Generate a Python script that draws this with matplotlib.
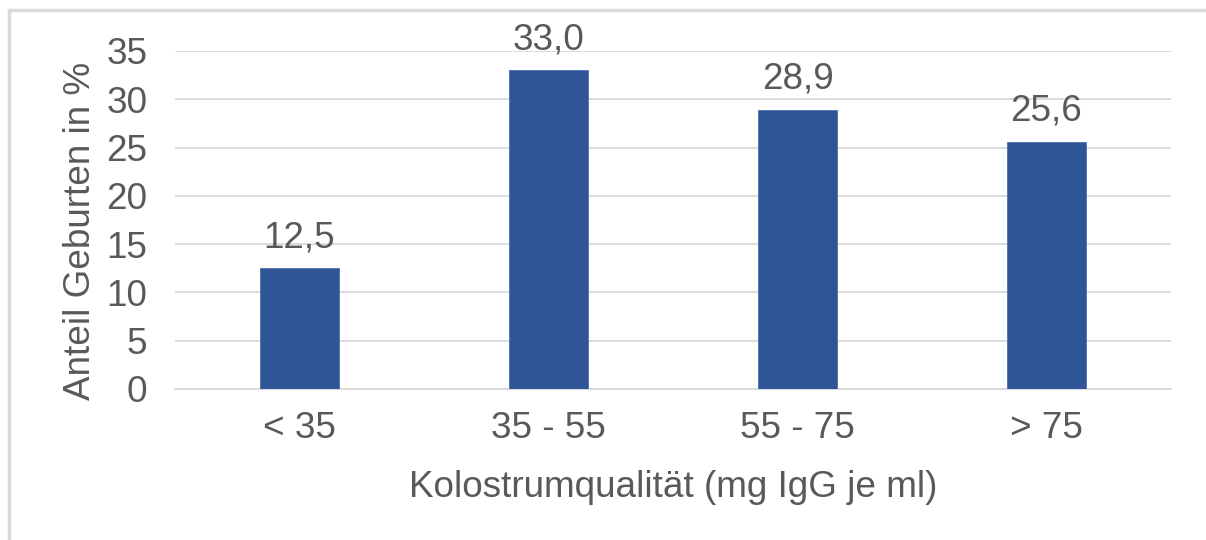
import matplotlib.pyplot as plt
from matplotlib.patches import Rectangle

categories = ["< 35", "35 - 55", "55 - 75", "> 75"]
shares = [12.5, 33.0, 28.9, 25.6]
value_labels = ["12,5", "33,0", "28,9", "25,6"]
y_ticks = [0, 5, 10, 15, 20, 25, 30, 35]

plt.rcParams['font.family'] = ['Liberation Sans', 'DejaVu Sans']
text_color = '#595959'
grid_color = '#D9D9D9'
bar_color = '#2F5597'
fs = 26.6

fig = plt.figure(figsize=(12.06, 5.4), dpi=100)
ax = fig.add_axes([175 / 1206, 1 - 389 / 540, 996 / 1206, 338 / 540])

x = range(len(categories))
bars = ax.bar(x, shares, width=0.315, color=bar_color, edgecolor='#4A6FB0', linewidth=0.6, zorder=3)

for rect, lab in zip(bars, value_labels):
    ax.annotate(lab, (rect.get_x() + rect.get_width() / 2, rect.get_height()),
                xytext=(0, 13), textcoords='offset pixels', ha='center', va='bottom',
                fontsize=fs, color=text_color)

ax.set_xlim(-0.5, len(categories) - 0.5)
ax.set_ylim(0, 35)
ax.set_yticks(y_ticks)
ax.set_xticks(list(x))
ax.set_xticklabels(categories)
ax.tick_params(axis='both', length=0, labelsize=fs, labelcolor=text_color)
ax.tick_params(axis='y', pad=20)
ax.tick_params(axis='x', pad=16)
ax.yaxis.grid(True, color=grid_color, linewidth=1.3, zorder=0)
ax.set_axisbelow(True)
for side in ['top', 'right', 'left']:
    ax.spines[side].set_visible(False)
ax.spines['bottom'].set_color(grid_color)
ax.spines['bottom'].set_linewidth(1.3)

ax.set_ylabel("Anteil Geburten in %", fontsize=fs, color=text_color)
ax.yaxis.set_label_coords(-0.077, 0.467)
ax.set_xlabel("Kolostrumqualität (mg IgG je ml)", fontsize=fs, color=text_color, labelpad=17)

# chart frame, only top and left edge fall inside the picture
fig.patches.append(Rectangle((9 / 1206, -0.1), 1.2, 1 - 10 / 540 + 0.1,
                             transform=fig.transFigure, fill=False,
                             edgecolor=grid_color, linewidth=2.5))

fig.savefig("out.png", dpi=100)
